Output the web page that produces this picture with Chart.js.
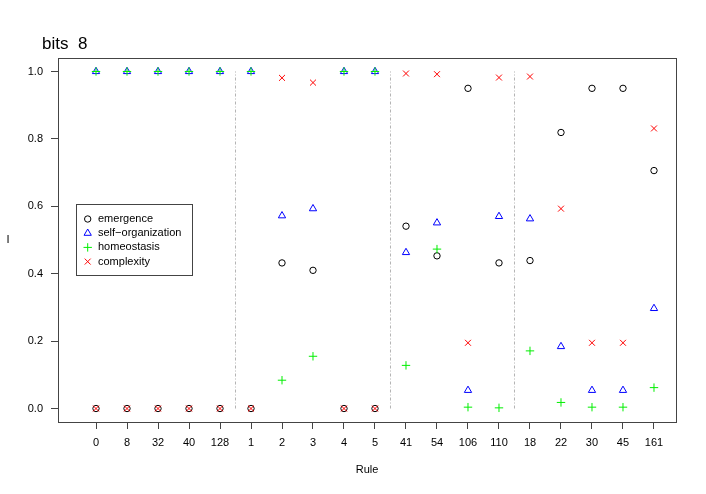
<!DOCTYPE html>
<html>
<head>
<meta charset="utf-8">
<script src="https://cdn.jsdelivr.net/npm/chart.js@4"></script>
<style>
  body { margin: 0; background: #fff; }
  #wrap { width: 706px; height: 494px; }
</style>
</head>
<body>
<div id="wrap"><canvas id="mycanvas" width="706" height="494"></canvas></div>
<script>
// rules on the x axis, in plotting order
var rules = [0, 8, 32, 40, 128, 1, 2, 3, 4, 5, 41, 54, 106, 110, 18, 22, 30, 45, 161];
// how many rules sit in each block between the dotted lines
var groupSizes = [5, 5, 4, 5];
var yTicks = [0, 0.2, 0.4, 0.6, 0.8, 1.0];

var emergence   = [0, 0, 0, 0, 0, 0, 0.432, 0.410, 0, 0, 0.541, 0.453, 0.950, 0.432, 0.439, 0.819, 0.950, 0.950, 0.706];
var selfOrg     = [1, 1, 1, 1, 1, 1, 0.572, 0.593, 1, 1, 0.463, 0.551, 0.054, 0.570, 0.563, 0.184, 0.054, 0.054, 0.297];
var homeostasis = [1, 1, 1, 1, 1, 1, 0.084, 0.155, 1, 1, 0.128, 0.473, 0.004, 0.002, 0.171, 0.018, 0.004, 0.004, 0.062];
var complexity  = [0, 0, 0, 0, 0, 0, 0.981, 0.967, 0, 0, 0.994, 0.992, 0.195, 0.982, 0.985, 0.593, 0.195, 0.195, 0.831];

var FONT = '"Liberation Sans", Arial, Helvetica, sans-serif';

function pts(arr) {
  var out = [];
  for (var i in arr) out.push({x: +i, y: arr[i]});
  return out;
}

var series = [
  {label: 'emergence',          data: emergence,   color: '#000000', style: 'circle',   radius: 3.2, order: 4},
  {label: 'self\u2212organization', data: selfOrg, color: '#0000ff', style: 'triangle', radius: 4.2, order: 3},
  {label: 'homeostasis',        data: homeostasis, color: '#00ee00', style: 'cross',    radius: 4.2, order: 2},
  {label: 'complexity',         data: complexity,  color: '#ff0000', style: 'crossRot', radius: 4.2, order: 1}
];

var datasets = [];
for (var s in series) {
  datasets.push({
    type: 'scatter',
    label: series[s].label,
    data: pts(series[s].data),
    pointStyle: series[s].style,
    pointRadius: series[s].radius,
    pointHoverRadius: series[s].radius,
    pointBorderWidth: 1,
    borderColor: series[s].color,
    backgroundColor: 'rgba(0,0,0,0)',
    order: series[s].order
  });
}

// dotted separators between blocks of rules
var pos = -0.5;
for (var g = 0; g < groupSizes.length - 1; g++) {
  pos += groupSizes[g];
  datasets.push({
    type: 'line',
    label: 'sep' + g,
    data: [{x: pos, y: 0}, {x: pos, y: 1}],
    borderColor: '#b4b4b4',
    borderWidth: 1,
    borderDash: [3, 2, 1, 2],
    pointRadius: 0,
    fill: false,
    order: 10
  });
}

var extras = {
  id: 'extras',
  afterDraw: function(chart) {
    var ctx = chart.ctx;
    var a = chart.chartArea;
    ctx.save();
    // plot box
    ctx.strokeStyle = '#444';
    ctx.lineWidth = 1;
    ctx.strokeRect(Math.round(a.left) + 0.5, Math.round(a.top) + 0.5,
                   Math.round(a.right - a.left), Math.round(a.bottom - a.top));
    // main title
    ctx.fillStyle = '#000';
    ctx.font = '17px ' + FONT;
    ctx.textAlign = 'left';
    ctx.textBaseline = 'alphabetic';
    ctx.fillText('bits  8', 42, 49);
    // y label
    ctx.font = '11px ' + FONT;
    ctx.textAlign = 'center';
    ctx.textBaseline = 'middle';
    ctx.fillText('I', 8, (a.top + a.bottom) / 2);
    // legend
    ctx.strokeStyle = '#444';
    ctx.strokeRect(76.5, 204.5, 116, 71);
    ctx.textAlign = 'left';
    for (var i = 0; i < series.length; i++) {
      var y = 219 + i * 14.2;
      ctx.strokeStyle = series[i].color;
      ctx.fillStyle = 'rgba(0,0,0,0)';
      ctx.lineWidth = 1;
      Chart.helpers.drawPoint(ctx, {pointStyle: series[i].style, rotation: 0,
        radius: series[i].radius, borderWidth: 1}, 87.7, y);
      ctx.fillStyle = '#000';
      ctx.fillText(series[i].label, 98, y);
    }
    ctx.restore();
  }
};

var ctx = document.getElementById('mycanvas');
var chart = new Chart(ctx, {
  type: 'scatter',
  data: {datasets: datasets},
  options: {
    responsive: false,
    animation: false,
    events: [],
    layout: {padding: {top: 58, right: 30, left: 0, bottom: 0}},
    plugins: {
      legend: {display: false},
      tooltip: {enabled: false},
      title: {display: false}
    },
    scales: {
      x: {
        type: 'linear',
        min: -1.226,
        max: rules.length - 1 + 0.71,
        afterBuildTicks: function(scale) {
          scale.ticks = rules.map(function(r, i) { return {value: i}; });
        },
        afterFit: function(scale) { scale.height = 72; },
        ticks: {
          autoSkip: false,
          maxRotation: 0,
          padding: 7,
          color: '#000',
          font: {family: FONT, size: 11},
          callback: function(v) { return rules[v]; }
        },
        grid: {display: true, drawOnChartArea: false, drawTicks: true, tickLength: 7, color: '#444'},
        border: {display: false},
        title: {
          display: true,
          text: 'Rule',
          color: '#000',
          font: {family: FONT, size: 11},
          padding: {top: 0, bottom: 17}
        }
      },
      y: {
        type: 'linear',
        min: -0.04,
        max: 1.04,
        afterBuildTicks: function(scale) {
          scale.ticks = yTicks.map(function(v) { return {value: v}; });
        },
        afterFit: function(scale) { scale.width = 58; },
        ticks: {
          padding: 8,
          color: '#000',
          font: {family: FONT, size: 11},
          callback: function(v) { return v.toFixed(1); }
        },
        grid: {display: true, drawOnChartArea: false, drawTicks: true, tickLength: 7, color: '#444'},
        border: {display: false}
      }
    }
  },
  plugins: [extras]
});
</script>
</body>
</html>
